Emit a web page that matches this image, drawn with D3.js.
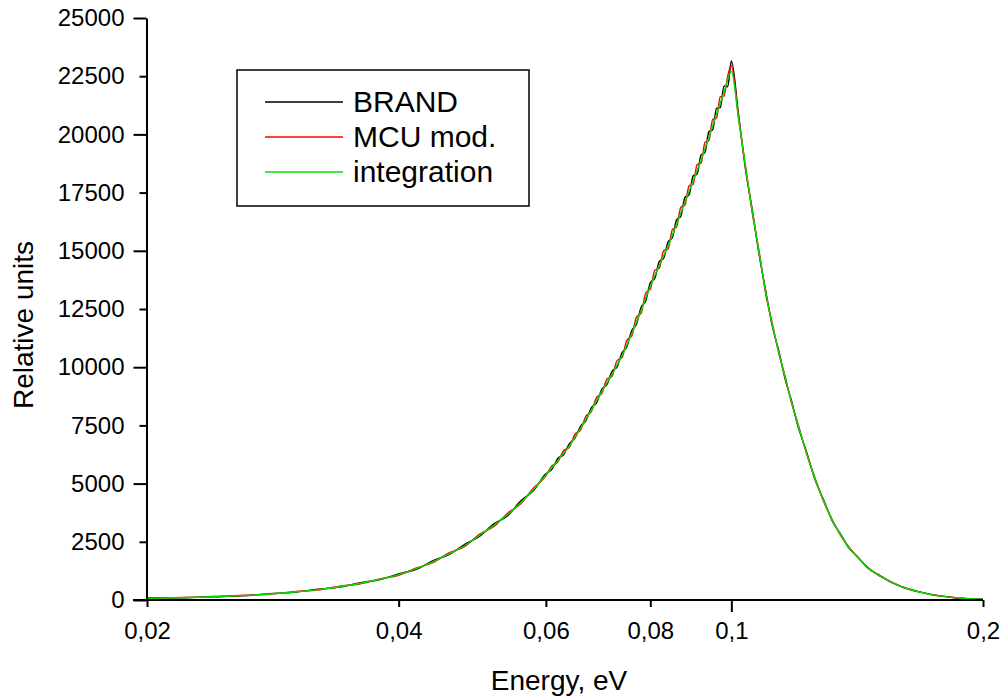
<!DOCTYPE html>
<html>
<head>
<meta charset="utf-8">
<script src="https://cdn.jsdelivr.net/npm/d3@7"></script>
<style>
  body { margin: 0; background: #fff; }
  svg { font-family: "Liberation Sans", Arial, sans-serif; }
</style>
</head>
<body>
<svg id="canvas" width="1006" height="700"></svg>
<script>
// ---------------- data ----------------
var energy = [0.020, 0.022, 0.024, 0.026, 0.028, 0.030, 0.032, 0.034, 0.036, 0.038,
  0.040, 0.042, 0.044, 0.046, 0.048, 0.050, 0.052, 0.054, 0.056, 0.058,
  0.060, 0.062, 0.064, 0.066, 0.068, 0.070, 0.072, 0.074, 0.076, 0.078,
  0.080, 0.082, 0.084, 0.086, 0.088, 0.090, 0.092, 0.094, 0.096, 0.098,
  0.100, 0.102, 0.104, 0.106, 0.108, 0.110, 0.112, 0.114, 0.116, 0.118,
  0.120, 0.123, 0.126, 0.129, 0.132, 0.135, 0.138, 0.142, 0.146, 0.150,
  0.155, 0.160, 0.165, 0.170, 0.175, 0.180, 0.185, 0.190, 0.195, 0.200];

var integration = [70, 98, 138, 190, 258, 342, 446, 570, 718, 890,
  1088, 1345, 1650, 1990, 2340, 2780, 3210, 3670, 4190, 4750,
  5370, 5990, 6620, 7380, 8160, 8960, 9700, 10500, 11440, 12450,
  13480, 14380, 15200, 16150, 17100, 18000, 18900, 19880, 20870, 21820,
  22700, 20700, 18560, 16630, 14870, 13160, 11790, 10620, 9540, 8520,
  7590, 6330, 5180, 4250, 3440, 2830, 2290, 1790, 1360, 1075,
  790, 560, 420, 300, 210, 150, 100, 70, 48, 30];

// measured series sampled more densely on the rising edge
var measEnergy = [0.020, 0.022, 0.024, 0.026, 0.028, 0.030, 0.032, 0.034, 0.036, 0.038,
  0.040, 0.042, 0.044, 0.046, 0.048, 0.050, 0.052, 0.054, 0.056, 0.058,
  0.060, 0.061, 0.062, 0.063, 0.064, 0.065, 0.066, 0.067, 0.068, 0.069,
  0.070, 0.071, 0.072, 0.073, 0.074, 0.075, 0.076, 0.077, 0.078, 0.079,
  0.080, 0.081, 0.082, 0.083, 0.084, 0.085, 0.086, 0.087, 0.088, 0.089,
  0.090, 0.091, 0.092, 0.093, 0.094, 0.095, 0.096, 0.097, 0.098, 0.099,
  0.100, 0.102, 0.104, 0.106, 0.108, 0.110, 0.112, 0.114, 0.116, 0.118,
  0.120, 0.123, 0.126, 0.129, 0.132, 0.135, 0.138, 0.142, 0.146, 0.150,
  0.155, 0.160, 0.165, 0.170, 0.175, 0.180, 0.185, 0.190, 0.195, 0.200];

var brand = [85, 90, 150, 180, 275, 330, 465, 555, 740, 875,
  1120, 1320, 1690, 1960, 2390, 2740, 3270, 3620, 4260, 4700,
  5420, 5610, 6080, 6240, 6710, 6950, 7460, 7700, 8250, 8480,
  9050, 9260, 9820, 10010, 10620, 10880, 11570, 11850, 12580, 12850,
  13620, 13820, 14530, 14680, 15380, 15560, 16330, 16480, 17290, 17400,
  18210, 18300, 19120, 19230, 20110, 20200, 21120, 21150, 22080, 22050,
  23150, 20850, 18480, 16700, 14800, 13230, 11730, 10680, 9480, 8570,
  7540, 6370, 5150, 4280, 3410, 2850, 2270, 1810, 1340, 1090,
  775, 570, 410, 305, 205, 155, 95, 72, 45, 32];

var mcuMod = [60, 110, 125, 205, 245, 360, 430, 590, 700, 910,
  1065, 1375, 1620, 2030, 2300, 2830, 3160, 3730, 4130, 4810,
  5330, 5760, 5930, 6410, 6560, 7120, 7300, 7900, 8090, 8700,
  8880, 9490, 9610, 10280, 10410, 11160, 11330, 12150, 12320, 13180,
  13350, 14160, 14250, 15010, 15070, 15910, 16020, 16870, 16960, 17790,
  17850, 18700, 18760, 19660, 19730, 20650, 20700, 21620, 21650, 22500,
  22950, 20700, 18630, 16570, 14930, 13100, 11840, 10570, 9590, 8480,
  7630, 6290, 5210, 4220, 3460, 2800, 2310, 1780, 1370, 1060,
  805, 550, 430, 295, 215, 145, 105, 68, 50, 28];

var xTicks = [0.02, 0.04, 0.06, 0.08, 0.1, 0.2];
var xMajor = [0.1];
var yTicks = [0, 2500, 5000, 7500, 10000, 12500, 15000, 17500, 20000, 22500, 25000];
var legendNames = ['BRAND', 'MCU mod.', 'integration'];
var colors = ['#000000', '#ff0000', '#00e000'];

// ---------------- scales ----------------
var svg = d3.select('#canvas');
var x = d3.scaleLog().domain([0.02, 0.2]).range([147, 983]);
var y = d3.scaleLinear().domain([0, 25000]).range([600, 18]);

var lineGen = d3.line().x(d => x(d[0])).y(d => y(d[1])).curve(d3.curveMonotoneX);

// ---------------- curves ----------------
var series = [d3.zip(measEnergy, brand), d3.zip(measEnergy, mcuMod), d3.zip(energy, integration)];
series.forEach(function(s, i) {
  svg.append('path')
    .attr('d', lineGen(s))
    .attr('fill', 'none')
    .attr('stroke', colors[i])
    .attr('stroke-width', 1.4);
});

// ---------------- axes ----------------
var yAxis = svg.append('g').attr('transform', 'translate(146.5,0)')
  .call(d3.axisLeft(y).tickValues(yTicks).tickSize(13).tickSizeOuter(0).tickPadding(9)
    .tickFormat(d3.format('d')));
yAxis.selectAll('.tick line').attr('x2', d => d % 5000 === 0 ? -13 : -7);

var xAxis = svg.append('g').attr('transform', 'translate(0,600)')
  .call(d3.axisBottom(x).tickValues(xTicks).tickSize(12).tickSizeOuter(0).tickPadding(10)
    .tickFormat(d => String(d).replace('.', ',')));
xAxis.selectAll('.tick line').attr('y2', d => xMajor.indexOf(d) >= 0 ? 12 : 7);

[xAxis, yAxis].forEach(function(a) {
  a.select('.domain').attr('stroke-width', 2);
  a.selectAll('.tick line').attr('stroke-width', 2);
  a.selectAll('.tick text').attr('font-size', 24).attr('font-family', '"Liberation Sans", Arial, sans-serif').attr('fill', '#000');
});
// x axis line reaches to the left end of the 0 tick
xAxis.select('.domain').attr('d', 'M' + 133 + ',0H' + 983);

svg.append('text')
  .attr('x', 559).attr('y', 690)
  .attr('text-anchor', 'middle')
  .attr('font-size', 28)
  .text('Energy, eV');

svg.append('text')
  .attr('transform', 'translate(33,325) rotate(-90)')
  .attr('text-anchor', 'middle')
  .attr('font-size', 28)
  .text('Relative units');

// ---------------- legend ----------------
var legend = svg.append('g');
legend.append('rect')
  .attr('x', 237).attr('y', 70).attr('width', 292).attr('height', 136)
  .attr('fill', '#fff').attr('stroke', '#000').attr('stroke-width', 1.5);

legendNames.forEach(function(name, i) {
  var ly = 102 + i * 35;
  legend.append('line')
    .attr('x1', 265).attr('x2', 343).attr('y1', ly).attr('y2', ly)
    .attr('stroke', colors[i]).attr('stroke-width', 1.3);
  legend.append('text')
    .attr('x', 353).attr('y', ly + 10)
    .attr('font-size', 30)
    .text(name);
});
</script>
</body>
</html>
